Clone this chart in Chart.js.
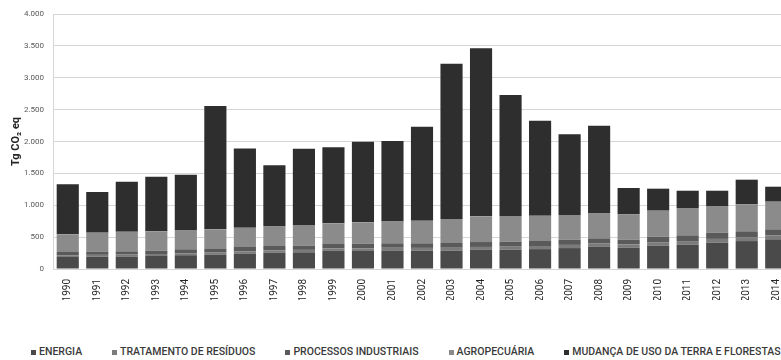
<!DOCTYPE html>
<html lang="pt-BR">
<head>
<meta charset="utf-8">
<title>Emissões por setor</title>
<script src="https://cdn.jsdelivr.net/npm/chart.js@4/dist/chart.umd.min.js"></script>
<style>
  html, body { margin: 0; padding: 0; background: #fff; overflow: hidden; }
  body { width: 781px; height: 360px; position: relative; }
  #wrap { position: absolute; left: 0; top: 0; width: 800px; height: 300px; }
  #legend {
    position: absolute; left: 31px; top: 345px;
    display: flex; white-space: nowrap;
    font: 500 10.5px Roboto, sans-serif; color: #3a3a3a; line-height: 14px;
  }
  #legend .item { display: flex; align-items: center; margin-right: 30px; }
  #legend .box { width: 5px; height: 5px; margin-right: 3px; }
</style>
</head>
<body>
<div id="wrap"><canvas id="emissoes"></canvas></div>
<div id="legend"></div>

<script>
const anos = ["1990", "1991", "1992", "1993", "1994", "1995", "1996", "1997", "1998", "1999", "2000", "2001", "2002",
  "2003", "2004", "2005", "2006", "2007", "2008", "2009", "2010", "2011", "2012", "2013", "2014"];

// Tg CO2 eq por setor
const energia = [188, 193, 196, 204, 216, 224, 243, 256, 262, 284, 283, 291, 288, 288, 300, 303, 312, 328, 347, 332, 365, 380, 412, 438, 466];
const residuos = [28, 29, 30, 31, 32, 33, 35, 37, 38, 39, 41, 42, 43, 45, 46, 47, 49, 50, 51, 53, 56, 58, 60, 62, 64];
const processos = [51, 50, 51, 53, 61, 57, 67, 68, 66, 69, 71, 70, 72, 75, 77, 78, 78, 82, 83, 75, 86, 90, 98, 91, 92];
const agropecuaria = [277, 298, 309, 303, 303, 308, 303, 313, 324, 324, 337, 344, 355, 376, 403, 403, 397, 387, 397, 397, 408, 429, 418, 423, 434];
const usoDaTerra = [786, 638, 784, 857, 868, 1935, 1242, 953, 1197, 1193, 1265, 1261, 1474, 2437, 2636, 1898, 1490, 1266, 1370, 414, 345, 271, 240, 387, 235];

const series = [
  { label: "ENERGIA", data: energia, color: "#4a4a4a" },
  { label: "TRATAMENTO DE RESÍDUOS", data: residuos, color: "#7b7b7b" },
  { label: "PROCESSOS INDUSTRIAIS", data: processos, color: "#5a5a5a" },
  { label: "AGROPECUÁRIA", data: agropecuaria, color: "#8b8b8b" },
  { label: "MUDANÇA DE USO DA TERRA E FLORESTAS", data: usoDaTerra, color: "#2e2e2e" },
];

const milhar = (v) => String(v).replace(/\B(?=(\d{3})+(?!\d))/g, ".");

const chart = new Chart(document.querySelector("#emissoes"), {
  type: "bar",
  data: {
    labels: anos,
    datasets: series.map((s) => ({
      label: s.label,
      data: s.data,
      backgroundColor: s.color,
      borderWidth: 0,
      categoryPercentage: 1,
      barPercentage: 0.75,
    })),
  },
  options: {
    responsive: true,
    maintainAspectRatio: false,
    animation: false,
    layout: { padding: { top: 14, right: 9, bottom: 0, left: 0 } },
    plugins: {
      legend: { display: false },
      tooltip: { enabled: false },
    },
    scales: {
      x: {
        stacked: true,
        grid: { display: false, drawTicks: false },
        border: { display: false },
        ticks: {
          minRotation: 90,
          maxRotation: 90,
          padding: 10,
          color: "#262626",
          font: { family: "Roboto", size: 10 },
        },
        afterFit: (scale) => { scale.height = 31; },
      },
      y: {
        stacked: true,
        min: 0,
        max: 4000,
        grid: { color: "#d6d6d6", lineWidth: 1, drawTicks: false },
        border: { display: true, color: "#d6d6d6" },
        ticks: {
          stepSize: 500,
          padding: 9,
          color: "#595959",
          font: { family: "Roboto", size: 8 },
          callback: (v) => milhar(v),
        },
        title: {
          display: true,
          text: "Tg CO₂ eq",
          color: "#262626",
          padding: { top: 10, bottom: 0 },
          font: { family: "Roboto", size: 11, weight: "bold" },
        },
        afterFit: (scale) => { scale.width = 53; },
      },
    },
  },
});

// legenda em linha, estilo planilha
const legendEl = document.querySelector("#legend");
chart.data.datasets.forEach((ds) => {
  const item = document.createElement("div");
  item.className = "item";
  const box = document.createElement("span");
  box.className = "box";
  box.style.background = ds.backgroundColor;
  const txt = document.createElement("span");
  txt.textContent = ds.label;
  item.append(box, txt);
  legendEl.append(item);
});
</script>
</body>
</html>
